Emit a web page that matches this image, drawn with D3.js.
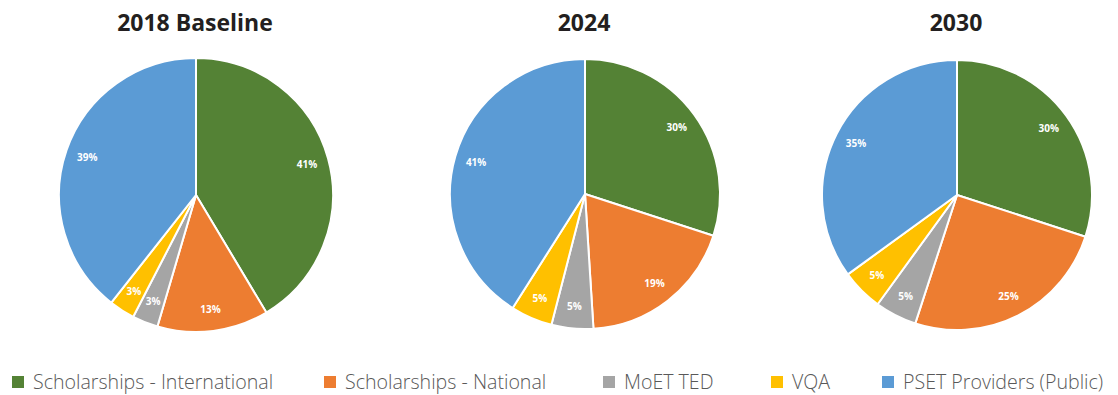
<!DOCTYPE html>
<html>
<head>
<meta charset="utf-8">
<script src="https://cdn.jsdelivr.net/npm/d3@7"></script>
<style>
  html, body { margin: 0; padding: 0; background: #fff; }
  svg { display: block; }
</style>
</head>
<body>
<svg id="chart" width="1118" height="395"></svg>
<script>
// Funding sources, shares of total (%)
const categories = ["Scholarships - International", "Scholarships - National", "MoET TED", "VQA", "PSET Providers (Public)"];
const colors = ["#548235", "#ED7D31", "#A5A5A5", "#FFC000", "#5B9BD5"];
const years = ["2018 Baseline", "2024", "2030"];
const share2018 = [41, 13, 3, 3, 39];
const share2024 = [30, 19, 5, 5, 41];
const share2030 = [30, 25, 5, 5, 35];
const seriesByYear = [share2018, share2024, share2030];

const svg = d3.select("#chart");

const layout = [
  { cx: 196, cy: 195, r: 137 },
  { cx: 585, cy: 194, r: 135 },
  { cx: 957, cy: 195, r: 135 }
];

const pie = d3.pie().sort(null).value(d => d.v);
const color = d3.scaleOrdinal().domain(categories).range(colors);

seriesByYear.forEach((vals, i) => {
  const L = layout[i];
  const data = vals.map((v, k) => ({ cat: categories[k], v }));
  const arcs = pie(data);
  const arc = d3.arc().innerRadius(0).outerRadius(L.r);
  const labelArc = d3.arc().innerRadius(L.r * 0.84).outerRadius(L.r * 0.84);

  svg.append("text")
    .attr("x", L.cx - 1)
    .attr("y", 31)
    .attr("text-anchor", "middle")
    .attr("font-family", "'Open Sans', sans-serif")
    .attr("font-weight", 700)
    .attr("font-size", 23)
    .attr("fill", "#231f20")
    .text(years[i]);

  const g = svg.append("g").attr("transform", `translate(${L.cx},${L.cy})`);
  g.selectAll("path")
    .data(arcs)
    .join("path")
    .attr("d", arc)
    .attr("fill", d => color(d.data.cat))
    .attr("stroke", "#fff")
    .attr("stroke-width", 2)
    .attr("stroke-linejoin", "round");

  g.selectAll("text")
    .data(arcs)
    .join("text")
    .attr("transform", d => `translate(${labelArc.centroid(d)})`)
    .attr("text-anchor", "middle")
    .attr("dy", "0.35em")
    .attr("font-family", "'Open Sans', sans-serif")
    .attr("font-weight", 700)
    .attr("font-size", 10)
    .attr("fill", "#fff")
    .text(d => d.data.v + "%");
});

// Legend
const legendX = [12, 324, 603, 771, 882];
const legend = svg.append("g");
categories.forEach((c, k) => {
  const item = legend.append("g").attr("transform", `translate(${legendX[k]},376)`);
  item.append("rect")
    .attr("width", 12).attr("height", 12)
    .attr("fill", color(c));
  item.append("text")
    .attr("x", 21)
    .attr("y", 13)
    .attr("font-family", "'Open Sans', sans-serif")
    .attr("font-weight", 300)
    .attr("font-size", 19.6)
    .attr("fill", "#595959")
    .text(c);
});
</script>
</body>
</html>
